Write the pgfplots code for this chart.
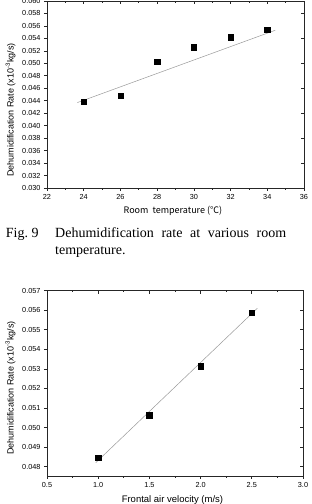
\documentclass[border=0pt]{standalone}
\usepackage{fontspec}
\setmainfont{Liberation Sans}
\newfontfamily\serifcap{Liberation Serif}
\newfontfamily\cjk{Noto Sans CJK SC}
\usepackage{pgfplots}
\pgfplotsset{compat=1.18}

\tikzset{ratelabel/.style={font=\fontsize{9}{10}\selectfont}}
\pgfplotsset{
  framed/.style={
    scale only axis,
    axis line style={line width=0.8pt, black!85},
    tick style={black!85, line width=0.6pt},
    major tick length=3pt, minor tick length=1.8pt,
    tick align=outside,
    xtick pos=left, ytick pos=left,
    scaled ticks=false,
    /pgf/number format/assume math mode=true,
    tick label style={font=\fontsize{7.3}{8}\selectfont},
    clip=false,
  },
  mirrorticks/.style={
    scale only axis,
    axis line style={draw=none},
    tick style={black!85, line width=0.6pt},
    major tick length=3pt, minor tick length=1.8pt,
    tick align=inside,
    xtick pos=right, ytick pos=right,
    scaled ticks=false,
    xticklabels={}, yticklabels={},
  },
}

\begin{document}
\begin{tikzpicture}
\useasboundingbox (0,0) rectangle (311pt,504pt);

% ---------- Fig. 9: rate versus room temperature ----------
\begin{axis}[framed,
  at={(47pt,316pt)}, anchor=south west,
  width=257pt, height=187pt,
  xmin=22, xmax=36, ymin=0.030, ymax=0.060,
  xtick={22,24,26,28,30,32,34,36},
  minor x tick num=1,
  ytick={0.030,0.032,0.034,0.036,0.038,0.040,0.042,0.044,0.046,0.048,0.050,0.052,0.054,0.056,0.058,0.060},
  yticklabel style={/pgf/number format/.cd, fixed, fixed zerofill, precision=3},
  xlabel={\cjk\fontsize{9}{10}\selectfont Room~~temperature (℃)},
  xlabel style={at={(axis description cs:0.49,-0.135)}, anchor=base},
  ylabel={Dehumidification Rate (x10\textsuperscript{-3}kg/s)},
  ylabel style={ratelabel, at={(axis description cs:-0.142,0.417)}, anchor=center},
]
\addplot[gray!80, line width=0.5pt] coordinates {(23.65,0.0437) (34.43,0.0553)};
\addplot[only marks, mark=square*, mark size=2.7pt, black] coordinates {
  (24,0.0438) (26,0.0448) (28,0.0503) (30,0.0526) (32,0.0542) (34,0.0554)};
\end{axis}
\begin{axis}[mirrorticks,
  at={(47pt,316pt)}, anchor=south west,
  width=257pt, height=187pt,
  xmin=22, xmax=36, ymin=0.030, ymax=0.060,
  xtick={22,24,26,28,30,32,34,36},
  minor x tick num=1,
  ytick={0.030,0.034,0.038,0.042,0.046,0.050,0.054,0.058},
]
\end{axis}

% ---------- caption ----------
\node[anchor=base west, inner sep=0pt, font=\serifcap\fontsize{14}{17.7}\selectfont]
  at (5.7pt,266.7pt) {Fig.\ 9};
\node[anchor=base west, inner sep=0pt, font=\serifcap\fontsize{14}{17.7}\selectfont]
  at (55pt,266.7pt) {\parbox[t]{231pt}{\hyphenpenalty=10000\relax
    Dehumidification rate at various room\linebreak temperature.}};

% ---------- rate versus frontal air velocity ----------
\begin{axis}[framed,
  at={(47pt,28pt)}, anchor=south west,
  width=256pt, height=185.3pt,
  xmin=0.5, xmax=3.0, ymin=0.04752, ymax=0.057,
  xtick={0.5,1.0,1.5,2.0,2.5,3.0},
  minor x tick num=1,
  ytick={0.048,0.049,0.050,0.051,0.052,0.053,0.054,0.055,0.056,0.057},
  xticklabel style={/pgf/number format/.cd, fixed, fixed zerofill, precision=1},
  yticklabel style={/pgf/number format/.cd, fixed, fixed zerofill, precision=3},
  xlabel={Frontal air velocity (m/s)},
  xlabel style={font=\fontsize{9.5}{10}\selectfont, at={(axis description cs:0.49,-0.13)}, anchor=center},
  ylabel={Dehumidification Rate (x10\textsuperscript{-3}kg/s)},
  ylabel style={ratelabel, at={(axis description cs:-0.1426,0.475)}, anchor=center},
]
\addplot[gray!80, line width=0.5pt] coordinates {(0.976,0.0482) (2.554,0.0561)};
\addplot[only marks, mark=square*, mark size=2.7pt, black] coordinates {
  (1.0,0.04846) (1.5,0.05063) (2.0,0.05313) (2.5,0.05586)};
\end{axis}
\begin{axis}[mirrorticks,
  at={(47pt,28pt)}, anchor=south west,
  width=256pt, height=185.3pt,
  xmin=0.5, xmax=3.0, ymin=0.04752, ymax=0.057,
  xtick={0.5,1.0,1.5,2.0,2.5,3.0},
  minor x tick num=1,
  ytick={0.048,0.049,0.050,0.051,0.052,0.053,0.054,0.055,0.056,0.057},
]
\end{axis}
\end{tikzpicture}
\end{document}
